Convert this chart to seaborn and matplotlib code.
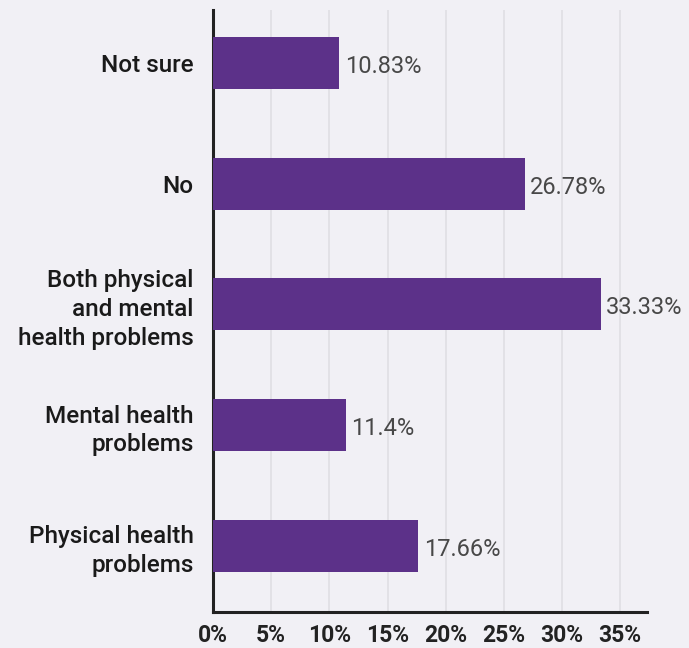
import matplotlib
matplotlib.use("Agg")
import matplotlib.pyplot as plt
import seaborn as sns
import pandas as pd
from matplotlib.ticker import FuncFormatter, MultipleLocator

categories = [
    "Not sure",
    "No",
    "Both physical\nand mental\nhealth problems",
    "Mental health\nproblems",
    "Physical health\nproblems",
]
values = [10.83, 26.78, 33.33, 11.4, 17.66]
value_labels = ["10.83%", "26.78%", "33.33%", "11.4%", "17.66%"]

bg = "#f1f0f5"
bar_color = "#5c3189"

sns.set_theme(style="white")
plt.rcParams["font.family"] = ["Roboto", "DejaVu Sans"]

df = pd.DataFrame({"category": categories, "value": values})

fig = plt.figure(figsize=(6.89, 6.48), dpi=100, facecolor=bg)
ax = fig.add_axes([213 / 689, 36 / 648, 434 / 689, 602 / 648])
ax.set_facecolor(bg)

sns.barplot(data=df, x="value", y="category", orient="h", color=bar_color,
            width=0.43, saturation=1, linewidth=0, ax=ax, zorder=3)

ax.set_xlim(0, 37.3)
ax.set_ylim(4.55, -0.44)
ax.xaxis.set_major_locator(MultipleLocator(5))
ax.xaxis.set_major_formatter(FuncFormatter(lambda v, _: f"{v:.0f}%"))
ax.grid(axis="x", color="#e0dfe4", linewidth=1.2, zorder=0)
ax.grid(axis="y", visible=False)

for s in ["top", "right"]:
    ax.spines[s].set_visible(False)
for s in ["left", "bottom"]:
    ax.spines[s].set_color("#222222")
    ax.spines[s].set_linewidth(2.2)

ax.set_xlabel("")
ax.set_ylabel("")
ax.tick_params(axis="both", length=0)
ax.tick_params(axis="y", pad=14, labelsize=17.5, labelcolor="#1a1a1a")
ax.tick_params(axis="x", pad=9, labelsize=16.5, labelcolor="#222222")
for t in ax.get_yticklabels():
    t.set_fontweight("medium")
    t.set_multialignment("right")
    t.set_linespacing(1.32)
for t in ax.get_xticklabels():
    t.set_fontweight("bold")

for i, (v, lab) in enumerate(zip(values, value_labels)):
    ax.annotate(lab, (v, i), xytext=(4, -2.5), textcoords="offset points",
                va="center", ha="left", fontsize=17, fontweight="normal",
                color="#484848")

fig.savefig("out.png", dpi=100, facecolor=bg)
